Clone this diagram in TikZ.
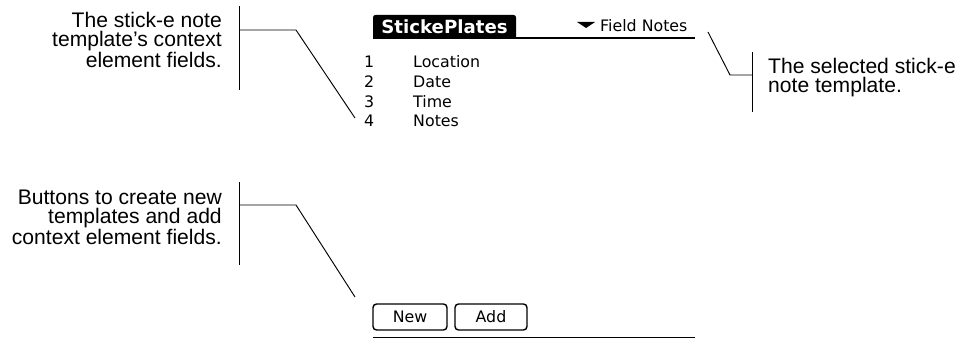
\documentclass[tikz,border=0pt]{standalone}
\usepackage{fontspec}
\setmainfont{Liberation Sans}
\newfontfamily\palmfont{DejaVu Sans}
\tikzset{
    note/.style={align=right, inner sep=0pt, font=\fontsize{18}{16}\selectfont},
    callout/.style={line width=0.8pt},
    palm/.style={inner sep=0pt, anchor=west, font=\palmfont\fontsize{13.5}{14}\selectfont},
    button/.style={draw, line width=1.2pt, rounded corners=3pt, minimum width=74*0.03cm, minimum height=26*0.03cm, inner sep=0pt, font=\palmfont\fontsize{13.5}{14}\selectfont}
}
\begin{document}
\begin{tikzpicture}[x=0.03cm, y=-0.03cm]
    \useasboundingbox (0,0) rectangle (962,338);
    % screen header
    \fill[black, rounded corners=2pt] (373,39) -- (373,15) -- (516,15) -- (516,39) -- cycle;
    \node[inner sep=0pt, text=white, font=\palmfont\bfseries\fontsize{15.5}{16}\selectfont] (title) at (444.5,27) {StickePlates};
    \fill[black] (373,37) rectangle (695,39.5);
    \fill[black] (577,22) -- (595,22) -- (586,28) -- cycle;
    \node[palm] (template) at (600,26) {Field Notes};
    % field list
    \node[palm] (n1) at (364,62) {1};
    \node[palm] (n2) at (364,82) {2};
    \node[palm] (n3) at (364,102) {3};
    \node[palm] (n4) at (364,121) {4};
    \node[palm] (f1) at (413,62) {Location};
    \node[palm] (f2) at (413,82) {Date};
    \node[palm] (f3) at (413,102) {Time};
    \node[palm] (f4) at (413,121) {Notes};
    % buttons
    \node[button] (new) at (410,317) {New};
    \node[button, minimum width=72*0.03cm] (add) at (491,317) {Add};
    \fill[black] (373,336.5) rectangle (695,338);
    % callouts
    \node[note, anchor=north east] (fieldnote) at (222,12) {The stick-e note\\template's context\\element fields.};
    \coordinate (fbar) at (239,30);
    \coordinate (fknee) at (296,30);
    \coordinate (ftip) at (355,118);
    \draw[callout] (239,6) -- (239,90);
    \draw[callout] (fbar) -- (fknee) -- (ftip);
    \node[note, align=left, anchor=north west] (selnote) at (768,58) {The selected stick-e\\note template.};
    \coordinate (sbar) at (752,75);
    \coordinate (sknee) at (730,75);
    \coordinate (stip) at (708,32);
    \draw[callout] (752,52) -- (752,112);
    \draw[callout] (sbar) -- (sknee) -- (stip);
    \node[note, anchor=north east] (buttonnote) at (222,190) {Buttons to create new\\templates and add\\context element fields.};
    \coordinate (bbar) at (239,205);
    \coordinate (bknee) at (296,205);
    \coordinate (btip) at (355,297);
    \draw[callout] (239,182) -- (239,265);
    \draw[callout] (bbar) -- (bknee) -- (btip);
\end{tikzpicture}
\end{document}
